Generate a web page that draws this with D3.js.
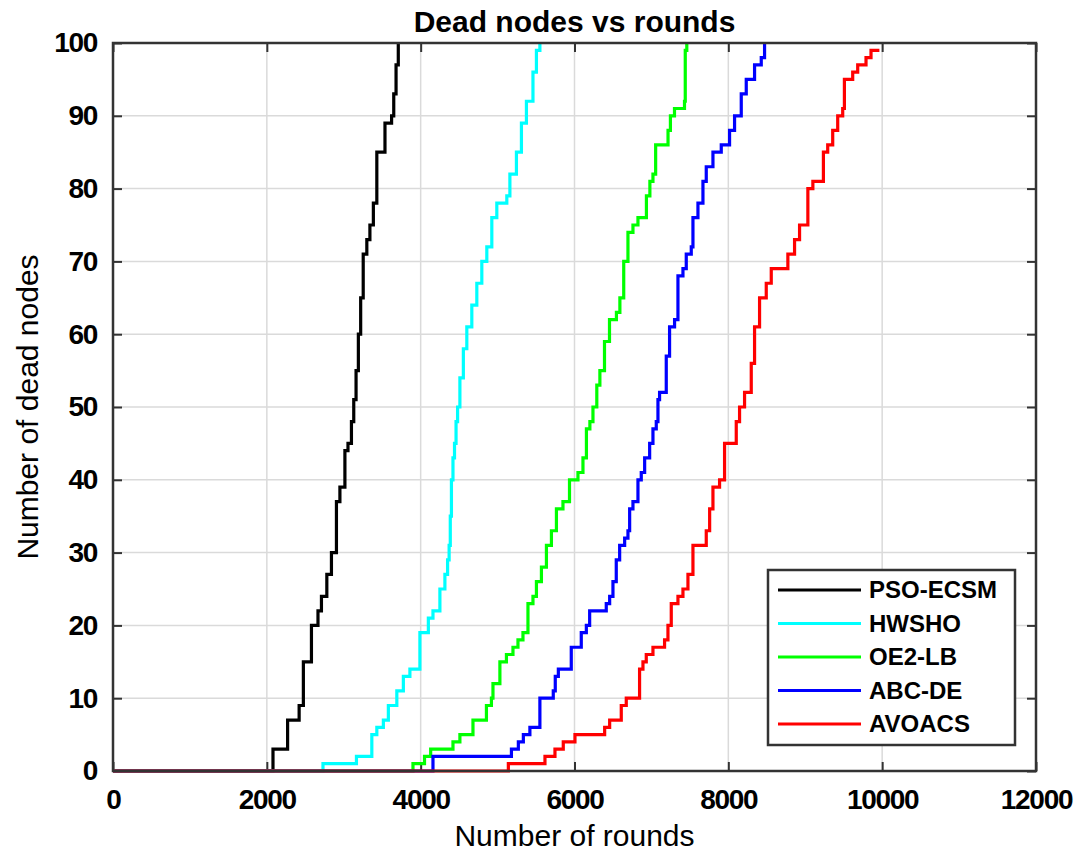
<!DOCTYPE html>
<html>
<head>
<meta charset="utf-8">
<script src="https://cdn.jsdelivr.net/npm/d3@7"></script>
<style>
  body { margin: 0; background: #fff; }
  svg { display: block; font-family: "Liberation Sans", Arial, sans-serif; }
</style>
</head>
<body>
<svg id="chart"></svg>
<script>
const seriesNames = ["PSO-ECSM", "HWSHO", "OE2-LB", "ABC-DE", "AVOACS"];
const seriesColors = ["#000000", "#00ffff", "#00ff00", "#0000ff", "#ff0000"];

// [round, dead nodes]
const psoEcsm = [[0,0],[2080,3],[2270,7],[2420,9],[2475,15],[2580,20],[2665,22],[2710,24],[2780,27],[2840,30],[2905,37],[2950,39],[3015,44],[3055,45],[3100,48],[3130,51],[3160,55],[3190,60],[3220,65],[3253,71],[3300,73],[3340,75],[3385,78],[3430,85],[3536,89],[3622,90],[3650,93],[3680,97],[3709,100]];
const hwsho = [[0,0],[2730,1],[3165,2],[3365,5],[3430,6],[3515,7],[3580,9],[3690,11],[3775,13],[3860,14],[3990,19],[4100,21],[4160,22],[4250,25],[4315,27],[4350,29],[4370,31],[4385,35],[4400,40],[4420,43],[4440,45],[4460,48],[4480,50],[4510,54],[4555,58],[4600,61],[4665,64],[4730,67],[4795,70],[4860,72],[4925,76],[4990,78],[5120,79],[5160,82],[5245,85],[5310,89],[5375,92],[5460,96],[5505,99],[5550,100]];
const oe2Lb = [[0,0],[3900,1],[4050,2],[4130,3],[4420,4],[4510,5],[4680,7],[4855,9],[4920,10],[4940,12],[5030,15],[5115,16],[5200,17],[5265,18],[5330,19],[5395,23],[5460,24],[5505,26],[5570,28],[5635,31],[5700,33],[5765,36],[5850,37],[5935,40],[6045,41],[6110,43],[6155,47],[6200,48],[6240,50],[6290,53],[6330,55],[6390,59],[6455,62],[6545,63],[6590,65],[6640,70],[6695,74],[6760,75],[6825,76],[6935,79],[6980,81],[7020,82],[7055,86],[7216,88],[7247,90],[7300,91],[7430,92],[7440,99],[7460,100]];
const abcDe = [[0,0],[4160,2],[5180,3],[5270,4],[5335,5],[5420,6],[5550,10],[5724,11],[5750,13],[5790,14],[5958,17],[6088,19],[6154,20],[6197,22],[6413,23],[6457,24],[6500,26],[6543,29],[6587,31],[6652,32],[6695,33],[6717,36],[6760,37],[6825,40],[6868,41],[6912,43],[6977,45],[7020,47],[7063,48],[7085,51],[7106,52],[7193,57],[7236,61],[7301,62],[7345,68],[7410,69],[7453,71],[7518,72],[7540,76],[7605,78],[7670,81],[7713,83],[7800,85],[7908,86],[8016,88],[8081,90],[8168,93],[8233,95],[8341,97],[8428,98],[8471,100]];
const avoacs = [[0,0],[5140,1],[5616,2],[5746,3],[5854,4],[6006,5],[6392,6],[6457,7],[6608,9],[6673,10],[6846,14],[6890,15],[6933,16],[7020,17],[7171,18],[7215,20],[7258,23],[7345,24],[7410,25],[7475,27],[7540,31],[7713,33],[7757,36],[7800,39],[7886,40],[7951,45],[8103,48],[8146,50],[8211,52],[8298,56],[8341,61],[8406,65],[8493,67],[8558,69],[8774,71],[8861,73],[8926,75],[9034,80],[9099,81],[9236,85],[9292,86],[9357,88],[9422,90],[9487,91],[9509,95],[9617,96],[9682,97],[9790,98],[9855,99],[9964,99]];

const allSeries = [psoEcsm, hwsho, oe2Lb, abcDe, avoacs];
const xTicks = [0, 2000, 4000, 6000, 8000, 10000, 12000];
const yTicks = [0, 10, 20, 30, 40, 50, 60, 70, 80, 90, 100];

const width = 1089;
const height = 858;
const margin = { top: 43, right: 53, bottom: 87, left: 113 };
const innerWidth = width - margin.left - margin.right;
const innerHeight = height - margin.top - margin.bottom;

const svg = d3.select("#chart").attr("width", width).attr("height", height);
const g = svg.append("g").attr("transform", `translate(${margin.left},${margin.top})`);

const x = d3.scaleLinear().domain([0, 12000]).range([0, innerWidth]);
const y = d3.scaleLinear().domain([0, 100]).range([innerHeight, 0]);

// grid
g.append("g").selectAll("line").data(xTicks.slice(1, -1)).join("line")
  .attr("x1", d => x(d)).attr("x2", d => x(d)).attr("y1", 0).attr("y2", innerHeight)
  .attr("stroke", "#dadada").attr("stroke-width", 1.5);
g.append("g").selectAll("line").data(yTicks.slice(1, -1)).join("line")
  .attr("x1", 0).attr("x2", innerWidth).attr("y1", d => y(d)).attr("y2", d => y(d))
  .attr("stroke", "#dadada").attr("stroke-width", 1.5);

// axes (ticks inward, on all four sides)
const styleAxis = sel => {
  sel.select(".domain").remove();
  sel.selectAll(".tick line").attr("stroke", "#333").attr("stroke-width", 2);
  sel.selectAll("text").attr("fill", "#000").style("font-size", "28px")
    .style("font-weight", "bold").style("letter-spacing", "-1.3px");
};
const noLabels = sel => {
  sel.select(".domain").remove();
  sel.selectAll(".tick text").remove();
  sel.selectAll(".tick line").attr("stroke", "#333").attr("stroke-width", 2);
};
g.append("g").attr("transform", `translate(0,${innerHeight})`)
  .call(d3.axisBottom(x).tickValues(xTicks).tickFormat(d3.format("d")).tickSizeInner(-9).tickPadding(18))
  .call(styleAxis);
g.append("g")
  .call(d3.axisLeft(y).tickValues(yTicks).tickSizeInner(-9).tickPadding(16))
  .call(styleAxis);
g.append("g")
  .call(d3.axisTop(x).tickValues(xTicks).tickSizeInner(-9))
  .call(noLabels);
g.append("g").attr("transform", `translate(${innerWidth},0)`)
  .call(d3.axisRight(y).tickValues(yTicks).tickSizeInner(-9))
  .call(noLabels);

// lines
const line = d3.line().x(d => x(d[0])).y(d => y(d[1])).curve(d3.curveStepAfter);
allSeries.forEach((data, i) => {
  g.append("path").datum(data)
    .attr("fill", "none")
    .attr("stroke", seriesColors[i])
    .attr("stroke-width", 3.2)
    .attr("d", line);
});

// box
g.append("rect").attr("width", innerWidth).attr("height", innerHeight)
  .attr("fill", "none").attr("stroke", "#333").attr("stroke-width", 2.5);

// title + axis labels
svg.append("text").attr("x", margin.left + innerWidth / 2).attr("y", 32)
  .attr("text-anchor", "middle").style("font-size", "30px").style("font-weight", "bold")
  .text("Dead nodes vs rounds");
svg.append("text").attr("x", margin.left + innerWidth / 2).attr("y", 846)
  .attr("text-anchor", "middle").style("font-size", "30px")
  .text("Number of rounds");
svg.append("text").attr("transform", "rotate(-90)")
  .attr("x", -(margin.top + innerHeight / 2)).attr("y", 38)
  .attr("text-anchor", "middle").style("font-size", "30px")
  .text("Number of dead nodes");

// legend
const legend = svg.append("g").attr("transform", "translate(768,570)");
legend.append("rect").attr("width", 247).attr("height", 175)
  .attr("fill", "#fff").attr("stroke", "#333").attr("stroke-width", 2.5);
seriesNames.forEach((name, i) => {
  const ly = 20 + i * 33.5;
  legend.append("line").attr("x1", 10).attr("x2", 93).attr("y1", ly).attr("y2", ly)
    .attr("stroke", seriesColors[i]).attr("stroke-width", 3.2);
  legend.append("text").attr("x", 101).attr("y", ly + 8)
    .style("font-size", "24px").style("font-weight", "bold")
    .text(name);
});
</script>
</body>
</html>
